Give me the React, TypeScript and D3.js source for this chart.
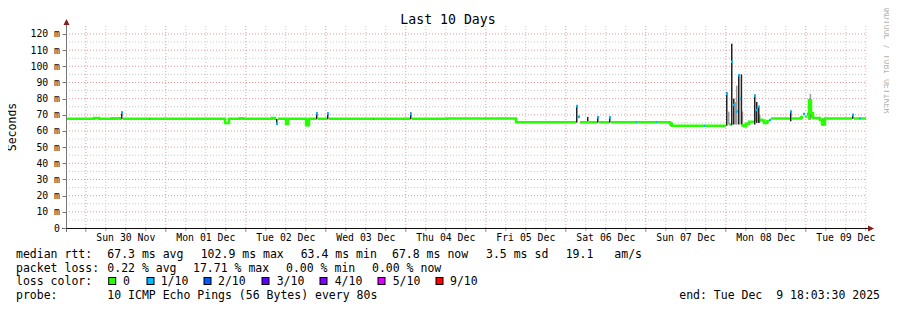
import * as d3 from "d3";

// start of the 10-day window (UTC), hours are offsets from here
const startTime = new Date(Date.UTC(2025, 10, 29, 18, 3, 30));
const spanHours = 240;

// median rtt steps: [hour offset, ms, lost pings]
const medianSteps: [number, number, number][] = [
  [0, 67.5, 0], [8.4, 68.0, 0], [9.9, 67.5, 0], [13.8, 67.9, 0], [14.4, 67.5, 0],
  [15.3, 67.9, 0], [16.2, 67.5, 0], [16.5, 71.5, 1], [17.1, 67.5, 0], [24.9, 67.5, 1],
  [25.2, 67.5, 0], [47.7, 65.0, 0], [48.9, 67.5, 0], [52.2, 67.9, 0], [53.1, 67.5, 0],
  [61.8, 68.0, 0], [62.7, 67.5, 0], [63.0, 64.5, 1], [63.6, 67.5, 0], [66.0, 64.5, 0],
  [66.6, 67.5, 0], [72.0, 63.5, 0], [72.9, 67.5, 0], [75.0, 70.8, 1], [75.6, 67.5, 0],
  [78.3, 70.8, 1], [78.9, 67.5, 0], [92.1, 67.5, 1], [92.4, 67.5, 0], [103.2, 70.5, 1],
  [103.8, 67.5, 0], [114.3, 67.8, 0], [135.0, 65.4, 0], [153.0, 75.5, 1], [153.6, 68.8, 1],
  [154.2, 65.4, 0], [159.3, 68.5, 1], [159.9, 65.4, 0], [162.9, 68.4, 1], [163.5, 65.4, 0],
  [171.0, 65.4, 1], [171.3, 65.4, 0], [177.0, 65.4, 1], [177.3, 65.4, 0], [181.2, 64.5, 0],
  [181.8, 63.3, 0], [191.4, 63.3, 1], [191.7, 63.3, 0], [198.0, 83.0, 1], [198.9, 64.0, 0],
  [199.5, 102.9, 1], [200.1, 76.0, 1], [201.0, 72.0, 1], [201.6, 94.5, 1], [202.2, 80.0, 1],
  [202.5, 63.5, 0], [203.4, 63.0, 0], [204.0, 64.5, 0], [204.9, 65.7, 0], [206.4, 81.8, 1],
  [207.0, 73.0, 1], [207.6, 75.0, 1], [208.2, 67.0, 0], [208.8, 66.5, 0], [209.4, 65.0, 0],
  [210.3, 66.0, 0], [210.9, 66.8, 1], [211.5, 67.8, 0], [217.2, 72.0, 1], [217.8, 67.8, 0],
  [220.5, 68.5, 0], [221.1, 70.5, 1], [221.7, 69.0, 0], [222.3, 70.5, 1], [222.6, 67.8, 0],
  [222.9, 79.0, 0], [223.5, 71.0, 0], [224.1, 68.0, 0], [226.2, 67.0, 0], [226.8, 64.0, 0],
  [227.7, 67.8, 0], [235.8, 70.0, 1], [236.4, 67.8, 0], [237.9, 67.8, 1], [238.5, 67.8, 0],
];

// smoke (ping spread): [hour offset, min ms, max ms]
const smokeDark: [number, number, number][] = [
  [16.5, 67.2, 72.0], [63.0, 63.8, 67.5], [66.0, 63.8, 67.5], [72.0, 63.0, 67.5],
  [75.0, 67.2, 71.5], [78.3, 67.2, 71.5], [103.2, 67.2, 71.5], [134.7, 65.2, 67.8],
  [153.0, 65.2, 76.0], [156.3, 65.2, 68.7], [159.3, 65.2, 68.7], [162.9, 65.2, 69.0],
  [181.2, 63.3, 65.4], [198.0, 63.3, 84.0], [199.5, 63.5, 114.0], [200.1, 64.0, 80.0],
  [201.6, 64.0, 95.0], [202.4, 64.0, 95.0], [206.4, 64.0, 82.5], [207.0, 65.0, 78.0],
  [207.6, 65.0, 75.0], [217.2, 66.0, 72.5], [222.9, 67.0, 80.0], [226.8, 63.5, 67.8],
  [235.8, 67.5, 70.5],
];
const smokeLight: [number, number, number][] = [
  [198.6, 64, 72], [200.7, 64, 78], [201.0, 64, 88], [202.7, 64, 72],
  [206.8, 66, 73], [207.9, 65, 70], [223.1, 70, 83], [223.4, 68, 74],
];

const yTicks = [0, 10, 20, 30, 40, 50, 60, 70, 80, 90, 100, 110, 120];

const lossLegend = ["0", "1/10", "2/10", "3/10", "4/10", "5/10", "9/10"];
const lossColors = ["#26ff00", "#00b8ff", "#0059ff", "#5e00ff", "#7e00ff", "#dd00ff", "#ff0000"];

const rttStats = ["median rtt:", "67.3 ms avg", "102.9 ms max", "63.4 ms min", "67.8 ms now", "3.5 ms sd", "19.1", "am/s"];
const lossStats = ["packet loss:", "0.22 % avg", "17.71 % max", "0.00 % min", "0.00 % now"];
const probeText = "10 ICMP Echo Pings (56 Bytes) every 80s";
const endText = "end: Tue Dec  9 18:03:30 2025";

const W = 897;
const H = 310;
const font = "'DejaVu Sans Mono', monospace";

const at = (h: number) => new Date(startTime.getTime() + h * 3600e3);

export default function App() {
  const x = d3.scaleUtc().domain([startTime, at(spanHours)]).range([66, 866]);
  const y = d3.scaleLinear().domain([0, 123.7]).range([228, 28]);

  const sixHours = d3.utcHour.every(6)!.range(at(0), at(spanHours));
  const days = d3.utcDay.range(at(0), at(spanHours));
  const fmtDay = d3.utcFormat("%a %d %b");

  const stepEnd = (i: number) => (i + 1 < medianSteps.length ? medianSteps[i + 1][0] : spanHours);

  // no-loss median: one connected line, broken where pings were lost
  const pts: { t: Date; v: number; ok: boolean }[] = [];
  medianSteps.forEach((s, i) => {
    pts.push({ t: at(s[0]), v: s[1], ok: s[2] === 0 });
    pts.push({ t: at(stepEnd(i)), v: s[1], ok: s[2] === 0 });
  });
  const okLine =
    d3
      .line<{ t: Date; v: number; ok: boolean }>()
      .defined((d) => d.ok)
      .x((d) => x(d.t))
      .y((d) => y(d.v))(pts) ?? "";

  // lossy samples: short marks only
  const lossMarks = medianSteps
    .map((s, i) => ({ s, i }))
    .filter((d) => d.s[2] > 0);

  const smokeRect = (s: [number, number, number], fill: string, k: number) => (
    <rect
      key={k}
      x={x(at(s[0]))}
      width={x(at(s[0] + 0.45)) - x(at(s[0]))}
      y={y(s[2])}
      height={y(s[1]) - y(s[2])}
      fill={fill}
    />
  );

  const minorY = d3.range(5, 121, 10);
  const legendX = [108.7, 147, 204, 262, 320, 378, 436];
  const legendLabelX = [123, 160.7, 218, 276.7, 334.7, 392.7, 450];
  const rttX = [16, 107.3, 200.7, 300.7, 392, 486, 565.7, 614.3];
  const lossX = [16, 107.3, 193, 286, 372];

  return (
    <svg width={W} height={H} style={{ display: "block", margin: -8 }} fontFamily={font}>
      <rect width={W} height={H} fill="#fff" />

      {/* grid */}
      {minorY.map((v) => (
        <line key={"my" + v} x1={66} x2={866} y1={y(v)} y2={y(v)} stroke="#c8c8c8" strokeDasharray="1 2" />
      ))}
      {sixHours.map((d, i) =>
        d.getUTCHours() === 0 ? null : (
          <line key={"mx" + i} x1={x(d)} x2={x(d)} y1={26} y2={228} stroke="#c8c8c8" strokeDasharray="1 2" />
        )
      )}
      {yTicks.slice(1).map((v) => (
        <line key={"gy" + v} x1={66} x2={866} y1={y(v)} y2={y(v)} stroke="#e69a9a" strokeDasharray="1 2" />
      ))}
      {days.map((d, i) => (
        <line key={"gx" + i} x1={x(d)} x2={x(d)} y1={26} y2={228} stroke="#e69a9a" strokeDasharray="1 2" />
      ))}

      {/* smoke */}
      {smokeLight.map((s, i) => smokeRect(s, "#9a9a9a", i))}
      {smokeDark.map((s, i) => smokeRect(s, "#222", i))}

      {/* median by loss */}
      <path d={okLine} fill="none" stroke={lossColors[0]} strokeWidth={2.5} />
      {lossMarks.map(({ s, i }) => (
        <line
          key={"lm" + i}
          x1={x(at(s[0]))}
          x2={x(at(Math.min(stepEnd(i), s[0] + 0.6)))}
          y1={y(s[1])}
          y2={y(s[1])}
          stroke={lossColors[s[2]]}
          strokeWidth={2.5}
        />
      ))}

      {/* axes */}
      <line x1={66.5} x2={66.5} y1={24} y2={232} stroke="#777" />
      <path d="M63.5,25 L69.5,25 L66.5,19 Z" fill="#8b1a1a" />
      <line x1={62} x2={869} y1={228.5} y2={228.5} stroke="#111" />
      <path d="M868,225.5 L868,231.5 L874,228.5 Z" fill="#8b1a1a" />
      {yTicks.map((v) => (
        <line key={"ty" + v} x1={62.5} x2={66.5} y1={Math.round(y(v)) + 0.5} y2={Math.round(y(v)) + 0.5} stroke="#777" />
      ))}
      {sixHours.map((d, i) => (
        <line
          key={"tx" + i}
          x1={x(d)}
          x2={x(d)}
          y1={229}
          y2={d.getUTCHours() === 0 ? 232 : 231}
          stroke={d.getUTCHours() === 0 ? "#d87070" : "#aaa"}
        />
      ))}

      {yTicks.map((v) => (
        <text key={"ly" + v} x={60} y={y(v) + 3.5} fontSize={9.8} textAnchor="end" style={{ whiteSpace: "pre" }}>
          {v === 0 ? "0" : `${v} m`}
        </text>
      ))}
      {days.map((d, i) => (
        <text key={"lx" + i} x={x(d3.utcHour.offset(d, 12))} y={241} fontSize={9.8} textAnchor="middle">
          {fmtDay(d)}
        </text>
      ))}

      <text x={448} y={24} fontSize={13.2} textAnchor="middle">Last 10 Days</text>
      <text transform="translate(15.5,127) rotate(-90)" fontSize={11.5} textAnchor="middle">Seconds</text>
      <text transform="translate(884,5) rotate(90)" fontSize={8.2} fill="#b4b4b4">RRDTOOL / TOBI OETIKER</text>

      {/* legend */}
      {rttStats.map((s, i) => (
        <text key={"r" + i} x={rttX[i]} y={258} fontSize={11.5}>{s}</text>
      ))}
      {lossStats.map((s, i) => (
        <text key={"p" + i} x={lossX[i]} y={271.5} fontSize={11.5}>{s}</text>
      ))}
      <text x={16} y={285} fontSize={11.5}>loss color:</text>
      {lossLegend.map((s, i) => (
        <g key={"lc" + i}>
          <rect x={legendX[i]} y={277.5} width={7} height={7} fill={lossColors[i]} stroke="#000" />
          <text x={legendLabelX[i]} y={285} fontSize={11.5}>{s}</text>
        </g>
      ))}
      <text x={16} y={298.5} fontSize={11.5}>probe:</text>
      <text x={107.3} y={298.5} fontSize={11.5}>{probeText}</text>
      <text x={880} y={298.5} fontSize={11.5} textAnchor="end" style={{ whiteSpace: "pre" }}>{endText}</text>
    </svg>
  );
}
